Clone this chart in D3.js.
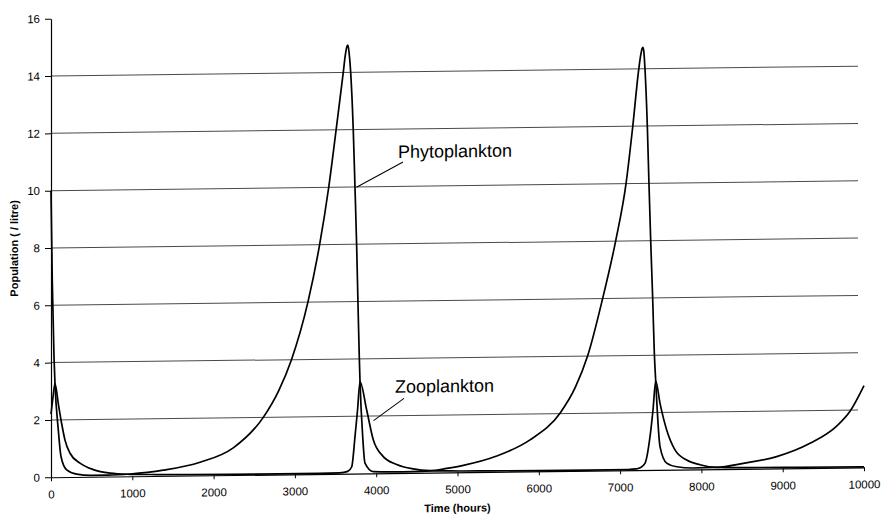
<!DOCTYPE html>
<html>
<head>
<meta charset="utf-8">
<script src="https://cdn.jsdelivr.net/npm/d3@7"></script>
<style>
  body { margin: 0; background: #fff; }
  svg { display: block; font-family: "Liberation Sans", Arial, sans-serif; }
</style>
</head>
<body>
<svg id="chart" width="882" height="518"></svg>
<script>
// ---- data ----
const phytoTime = [0,16,37,49,90,123,193,316,500,700,972,1381,1833,2242,2611,2800,2958,3160,3304,3416,3507,3595,3620,3640,3652,3666,3686,3718,3739,3760,3776,3792,3801,3834,3862,3964,4200,4450,4662,4867,5072,5482,5892,6261,6450,6600,6785,6945,7073,7156,7230,7255,7270,7280,7292,7306,7335,7355,7376,7400,7421,7438,7491,7573,7696,7900,8188,8516,8926,9336,9664,9828,10000];
const phytoValues = [10,6.8,4.2,3.27,1.64,0.72,0.25,0.1,0.05,0.05,0.08,0.2,0.46,0.95,2.0,2.92,4.0,6.0,8.0,10.0,12.0,14.0,14.6,14.9,14.95,14.7,14.0,11.98,10.0,7.9,5.92,4.06,3.2,1.28,0.36,0.06,0.04,0.04,0.06,0.14,0.24,0.55,1.1,2.02,2.92,4.0,6.0,8.0,10.0,12.0,14.0,14.5,14.7,14.75,14.6,14.0,11.98,10.0,8.03,6.05,4.07,3.1,0.81,0.23,0.1,0.05,0.06,0.19,0.41,0.86,1.45,1.96,2.85];

const zooTime = [0,25,49,90,131,172,234,357,520,726,972,1300,1700,2200,2800,3300,3550,3650,3699,3739,3770,3801,3883,3964,4087,4252,4457,4662,4900,5400,6000,6600,7100,7200,7245,7306,7368,7405,7438,7491,7573,7675,7819,7983,8188,8600,9200,10000];
const zooValues = [2.2,2.8,3.27,2.56,1.87,1.29,0.83,0.48,0.25,0.12,0.07,0.05,0.035,0.025,0.02,0.02,0.03,0.08,0.24,1.28,2.2,3.2,2.21,1.17,0.58,0.3,0.14,0.07,0.05,0.035,0.025,0.02,0.025,0.04,0.08,0.23,1.16,2.1,3.1,2.32,1.39,0.69,0.33,0.16,0.06,0.04,0.03,0.02];

const xTicks = [0,1000,2000,3000,4000,5000,6000,7000,8000,9000,10000];
const yTicks = [0,2,4,6,8,10,12,14,16];
const gridValues = [2,4,6,8,10,12,14];

const seriesNames = ["Phytoplankton", "Zooplankton"];
const xTitle = "Time (hours)";
const yTitle = "Population ( / litre)";

// ---- layout ----
const svg = d3.select("#chart");
const plotLeft = 51, plotRight = 864, plotTop = 13.9, plotBottom = 472.5;

const x = d3.scaleLinear().domain([0, 10000]).range([plotLeft, plotRight]);
const y = d3.scaleLinear().domain([0, 16]).range([plotBottom, plotTop]);

// the scanned original is slightly tilted
const root = svg.append("g").attr("transform", "translate(0,5.39) skewY(-0.7)");

// gridlines
root.append("g").selectAll("line").data(gridValues).join("line")
  .attr("x1", x(0)).attr("x2", x(10000) - 6)
  .attr("y1", d => y(d)).attr("y2", d => y(d))
  .attr("stroke", "#4a4a4a").attr("stroke-width", 1);

// axes
const yAxis = root.append("g").attr("transform", `translate(${plotLeft},0)`)
  .call(d3.axisLeft(y).tickValues(yTicks).tickFormat(d3.format("d"))
        .tickSize(6).tickSizeOuter(0).tickPadding(5));
const xAxis = root.append("g").attr("transform", `translate(0,${plotBottom})`)
  .call(d3.axisBottom(x).tickValues(xTicks).tickFormat(d3.format("d"))
        .tickSize(4).tickSizeOuter(0).tickPadding(9));
[yAxis, xAxis].forEach(a => {
  a.select(".domain").attr("stroke", "#000").attr("stroke-width", 1.2);
  a.selectAll(".tick line").attr("stroke", "#000");
  a.selectAll("text").attr("font-size", 11.5).attr("fill", "#000")
    .attr("font-family", "'Liberation Sans', Arial, sans-serif");
});

// curves
const line = d3.line().x(d => x(d[0])).y(d => y(d[1])).curve(d3.curveMonotoneX);
const series = [
  d3.zip(phytoTime, phytoValues),
  d3.zip(zooTime, zooValues)
];
root.append("g").selectAll("path").data(series).join("path")
  .attr("d", line)
  .attr("fill", "none").attr("stroke", "#000")
  .attr("stroke-width", 1.7).attr("stroke-linejoin", "round");

// annotations (anchored in data units)
const notes = [
  { text: seriesNames[0], at: [4268, 10.99], from: [4330, 10.85], to: [3758, 9.99] },
  { text: seriesNames[1], at: [4231, 2.80], from: [4342, 2.60], to: [3967, 1.84] }
];
const ann = root.append("g");
ann.selectAll("line").data(notes).join("line")
  .attr("x1", d => x(d.from[0])).attr("y1", d => y(d.from[1]))
  .attr("x2", d => x(d.to[0])).attr("y2", d => y(d.to[1]))
  .attr("stroke", "#000").attr("stroke-width", 1);
ann.selectAll("text").data(notes).join("text")
  .attr("x", d => x(d.at[0])).attr("y", d => y(d.at[1]))
  .attr("font-size", 18).attr("fill", "#000")
  .text(d => d.text);

// axis titles
root.append("text")
  .attr("x", (plotLeft + plotRight) / 2).attr("y", 512)
  .attr("text-anchor", "middle").attr("font-size", 11).attr("font-weight", "bold")
  .text(xTitle);
root.append("text")
  .attr("transform", `translate(18,${(plotTop + plotBottom) / 2}) rotate(-90)`)
  .attr("text-anchor", "middle").attr("font-size", 11).attr("font-weight", "bold")
  .text(yTitle);
</script>
</body>
</html>
